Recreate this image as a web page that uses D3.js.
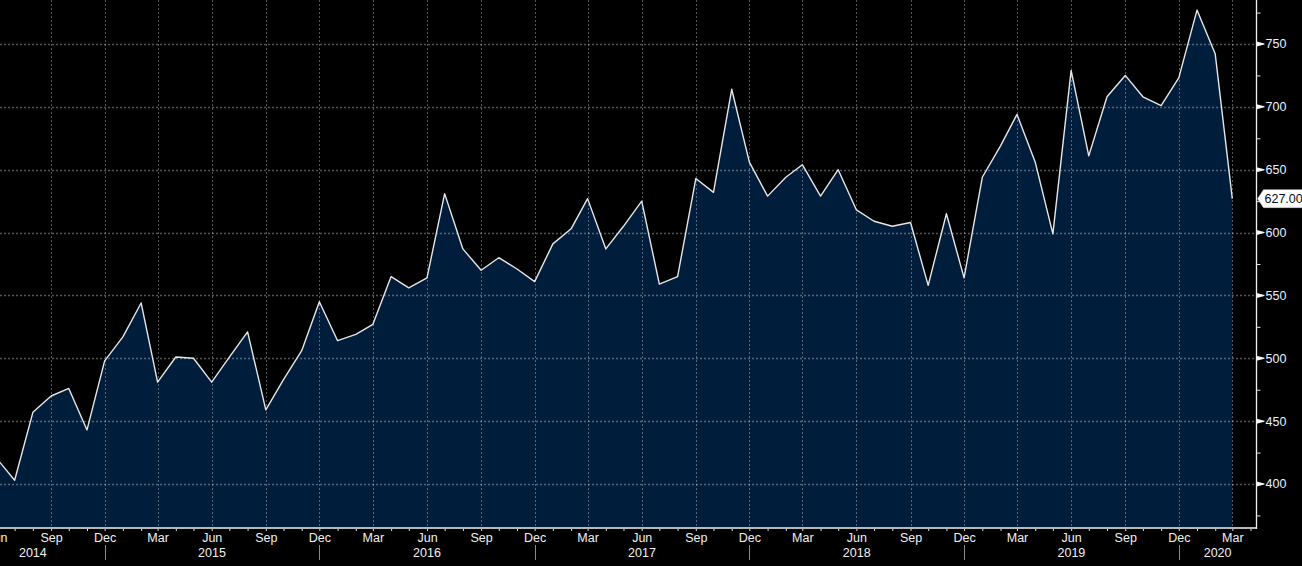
<!DOCTYPE html>
<html>
<head>
<meta charset="utf-8">
<script src="https://cdn.jsdelivr.net/npm/d3@7"></script>
<style>
html,body{margin:0;padding:0;background:#000;}
svg{display:block;font-family:"Liberation Sans",Arial,sans-serif;}
</style>
</head>
<body>
<svg id="chart" width="1302" height="566"></svg>
<script>
// ---- data ----
const startMonth = [2014, 5]; // June 2014 (0-based month)
const values = [
  420, 403, 457, 470, 476, 443, 498,
  517, 544, 481, 501, 500, 481, 501, 521, 459, 483, 506, 545,
  514, 519, 527, 565, 556, 564, 631, 587, 570, 580, 571, 561,
  591, 603, 627, 587, 605, 625, 559, 565, 643, 632, 714, 656,
  629, 644, 654, 629, 650, 618, 609, 605, 608, 558, 615, 564,
  644, 669, 694, 656, 599, 729, 661, 708, 725, 708, 701, 723,
  777, 742, 627
];
const yTicksMajor = [400, 450, 500, 550, 600, 650, 700, 750];
const yTicksMinor = [375, 425, 475, 525, 575, 625, 675, 725, 775];
const monthLabels = ["Jan","Feb","Mar","Apr","May","Jun","Jul","Aug","Sep","Oct","Nov","Dec"];
const labelledMonths = [2, 5, 8, 11];
const years = [2014, 2015, 2016, 2017, 2018, 2019, 2020];
const lastLabel = "627.00";

const data = values.map((v, i) => ({date: new Date(startMonth[0], startMonth[1] + i, 1), value: v}));

// ---- layout ----
const W = 1302, H = 566;
const plotRight = 1256.5, plotBottom = 528;
const svg = d3.select("#chart");

const x = d3.scaleTime()
  .domain([data[0].date, data[data.length - 1].date])
  .range([-3, 1232.3]);
const y = d3.scaleLinear().domain([365, 785]).range([plotBottom, 0]);

svg.append("rect").attr("width", W).attr("height", H).attr("fill", "#000");

// area
const area = d3.area().x(d => x(d.date)).y0(plotBottom).y1(d => y(d.value));
svg.append("path").datum(data).attr("d", area).attr("fill", "#001d3b");

// gridlines
const gridColor = "rgba(255,255,255,0.33)";
svg.append("g").selectAll("line").data(yTicksMajor).join("line")
  .attr("x1", 0).attr("x2", plotRight)
  .attr("y1", d => Math.round(y(d)) + 0.5).attr("y2", d => Math.round(y(d)) + 0.5)
  .attr("stroke", gridColor).attr("stroke-width", 1.3).attr("stroke-dasharray", "2,2");

const allMonths = d3.timeMonth.range(new Date(2014, 5, 1), new Date(2020, 4, 1));
const gridMonths = allMonths.filter(d => labelledMonths.includes(d.getMonth()) && x(d) > 0);
svg.append("g").selectAll("line").data(gridMonths).join("line")
  .attr("x1", d => Math.round(x(d)) + 0.5).attr("x2", d => Math.round(x(d)) + 0.5)
  .attr("y1", 0).attr("y2", plotBottom)
  .attr("stroke", gridColor).attr("stroke-width", 1).attr("stroke-dasharray", "2,2");

// line
const line = d3.line().x(d => x(d.date)).y(d => y(d.value));
svg.append("path").datum(data).attr("d", line)
  .attr("fill", "none").attr("stroke", "#e6e6e6").attr("stroke-width", 1.4)
  .attr("stroke-linejoin", "round");

// bottom axis
const xAxis = d3.axisBottom(x)
  .tickValues(allMonths.filter(d => x(d) <= plotRight))
  .tickSize(3).tickPadding(2)
  .tickFormat(d => labelledMonths.includes(d.getMonth()) ? monthLabels[d.getMonth()] : "");
const gx = svg.append("g").attr("transform", `translate(0,${plotBottom})`).call(xAxis);
gx.select(".domain").remove();
gx.selectAll(".tick line").attr("stroke", "#e0e0e0");
gx.selectAll(".tick text").attr("fill", "#f0f0f0").attr("font-size", 12.5)
  .attr("font-family", "Liberation Sans, Arial, sans-serif");
svg.append("line").attr("x1", 0).attr("x2", plotRight)
  .attr("y1", plotBottom).attr("y2", plotBottom)
  .attr("stroke", "#b8b8b8").attr("stroke-width", 2);

// year separators at Dec ticks
const decs = allMonths.filter(d => d.getMonth() === 11 && x(d) > 0 && x(d) < plotRight);
svg.append("g").selectAll("line").data(decs).join("line")
  .attr("x1", d => Math.round(x(d)) + 0.5).attr("x2", d => Math.round(x(d)) + 0.5)
  .attr("y1", 545).attr("y2", 560).attr("stroke", "#8a8a8a").attr("stroke-width", 1);

// year labels
const bounds = [x(new Date(2014, 3, 1)), ...decs.map(d => x(d)), plotRight];
svg.append("g").selectAll("text").data(years).join("text")
  .attr("x", (d, i) => (bounds[i] + bounds[i + 1]) / 2)
  .attr("y", 557).attr("text-anchor", "middle")
  .attr("fill", "#f0f0f0").attr("font-size", 12.5)
  .text(d => d);

// right axis
svg.append("line").attr("x1", plotRight).attr("x2", plotRight)
  .attr("y1", 0).attr("y2", plotBottom + 1).attr("stroke", "#f0f0f0").attr("stroke-width", 1.3);
const yAxis = d3.axisRight(y).tickValues(yTicksMinor).tickSize(4).tickFormat("");
const gy = svg.append("g").attr("transform", `translate(${plotRight},0)`).call(yAxis);
gy.select(".domain").remove();
gy.selectAll(".tick line").attr("stroke", "#e0e0e0");

const gMaj = svg.append("g").selectAll("g").data(yTicksMajor).join("g")
  .attr("transform", d => `translate(${plotRight},${y(d)})`);
gMaj.append("path").attr("d", "M0,-2.5 L8,-0.5 L8,0.5 L0,2.5 Z").attr("fill", "#f4f4f4");
gMaj.append("text").attr("x", 9).attr("dy", "0.35em")
  .attr("fill", "#eaf2ff").attr("font-size", 12.5).text(d => d);

// last value tag
const last = data[data.length - 1];
const ty = y(last.value);
svg.append("path")
  .attr("d", `M${plotRight + 1},${ty} L${plotRight + 7},${ty - 9} L${W + 2},${ty - 9} L${W + 2},${ty + 9} L${plotRight + 7},${ty + 9} Z`)
  .attr("fill", "#ffffff").attr("stroke", "#cccccc").attr("stroke-width", 0.5);
svg.append("text").attr("x", plotRight + 8).attr("y", ty).attr("dy", "0.36em")
  .attr("fill", "#0a0a1a").attr("font-size", 12.5).text(lastLabel);
</script>
</body>
</html>
